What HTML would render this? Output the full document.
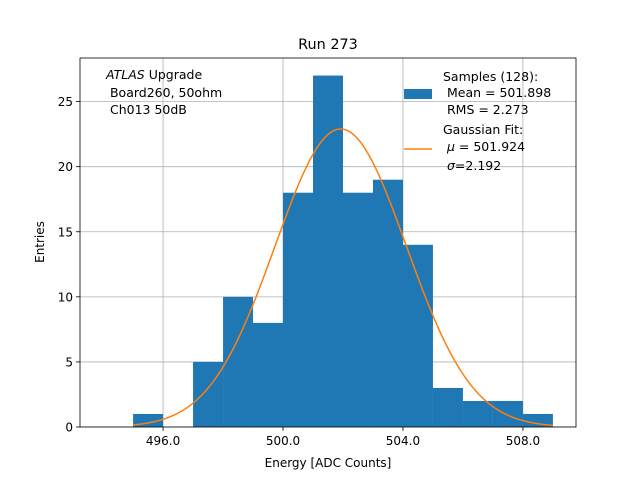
<!DOCTYPE html>
<html><head><meta charset="utf-8"><style>
body{margin:0;background:#fff;}
text{font-family:"DejaVu Sans","Liberation Sans",sans-serif;white-space:pre;}
</style></head><body>
<svg id="chart" width="640" height="480" xmlns="http://www.w3.org/2000/svg" xml:space="preserve">
<rect width="640" height="480" fill="#fff"/>
<g id="grid"></g><g id="bars"></g><g id="fit"></g><g id="axes"></g>
<text x="328" y="49" font-size="14.4" text-anchor="middle">Run 273</text>
<text x="328" y="467" font-size="12" text-anchor="middle">Energy [ADC Counts]</text>
<text transform="translate(44,242) rotate(-90)" font-size="12" text-anchor="middle">Entries</text>
<g font-size="12.5">
<text x="106" y="79"><tspan font-style="italic">ATLAS</tspan> Upgrade</text>
<text x="106" y="97"> Board260, 50ohm</text>
<text x="106" y="114"> Ch013 50dB</text>
</g>
<g font-size="12.5">
<rect x="404" y="89" width="28" height="10" fill="#1f77b4"/>
<text x="443" y="81">Samples (128):</text>
<text x="443" y="97"> Mean = 501.898</text>
<text x="443" y="114"> RMS = 2.273</text>
<line x1="404" y1="149" x2="432" y2="149" stroke="#ff7f0e" stroke-width="1.5"/>
<text x="443" y="134">Gaussian Fit:</text>
<text x="443" y="151"> <tspan font-style="italic">μ</tspan> = 501.924</text>
<text x="443" y="170"> <tspan font-style="italic">σ</tspan>=2.192</text>
</g>
</svg>
<script>
const binStarts=[495,496,497,498,499,500,501,502,503,504,505,506,507,508];
const counts=[1,0,5,10,8,18,27,18,19,14,3,2,2,1];
const xTicks=[496,500,504,508];
const xTickLabels=["496.0","500.0","504.0","508.0"];
const yTicks=[0,5,10,15,20,25];
const fitMu=501.924, fitSigma=2.192, fitAmp=22.9, fitMin=495, fitMax=509;
const L=80,R=576,T=58,B=427,XMIN=493.23,XMAX=509.77,YMAX=28.35;
const sx=v=>L+(v-XMIN)/(XMAX-XMIN)*(R-L);
const sy=v=>B-v/YMAX*(B-T);
const NS="http://www.w3.org/2000/svg";
function mk(p,t,a){const e=document.createElementNS(NS,t);for(const k in a)e.setAttribute(k,a[k]);p.appendChild(e);return e;}
const g=document.getElementById('grid'),bg=document.getElementById('bars'),fg=document.getElementById('fit'),ax=document.getElementById('axes');
binStarts.forEach((b,i)=>{if(!counts[i])return;
const r=mk(bg,'rect',{x:sx(b),y:sy(counts[i]),width:sx(b+1)-sx(b),height:sy(0)-sy(counts[i]),fill:'#1f77b4'});

});
xTicks.forEach((t,i)=>{const x=sx(t);
const gl=mk(g,'line',{x1:x,x2:x,y1:T,y2:B,stroke:'#b0b0b0','stroke-width':0.8});


mk(ax,'line',{x1:x,x2:x,y1:B,y2:B+4,stroke:'#000','stroke-width':0.8});
const tx=mk(ax,'text',{x:x,y:B+18,'font-size':12,'text-anchor':'middle'});tx.textContent=xTickLabels[i];

});
yTicks.forEach(t=>{const y=sy(t);
const gl=mk(g,'line',{x1:L,x2:R,y1:y,y2:y,stroke:'#b0b0b0','stroke-width':0.8});


mk(ax,'line',{x1:L-4,x2:L,y1:y,y2:y,stroke:'#000','stroke-width':0.8});
const tx=mk(ax,'text',{x:L-7,y:y+4.5,'font-size':12,'text-anchor':'end'});tx.textContent=t;

});
let d='';for(let k=0;k<=200;k++){const v=fitMin+(fitMax-fitMin)*k/200;const y=fitAmp*Math.exp(-0.5*((v-fitMu)/fitSigma)**2);d+=(k?'L':'M')+sx(v).toFixed(2)+','+sy(y).toFixed(2);}
const p=mk(fg,'path',{d:d,fill:'none',stroke:'#ff7f0e','stroke-width':1.5});


const fr=mk(ax,'rect',{x:L,y:T,width:R-L,height:B-T,fill:'none',stroke:'#000','stroke-width':0.8});


</script>
</body></html>
